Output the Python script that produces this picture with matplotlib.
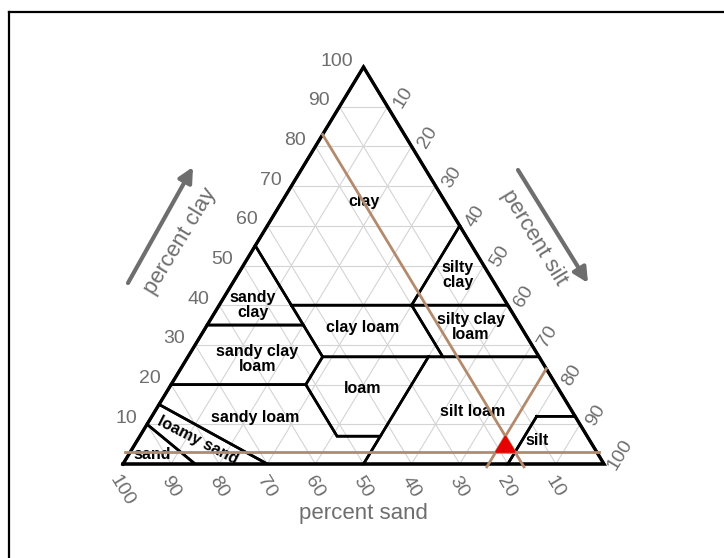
import matplotlib.pyplot as plt
from matplotlib.lines import Line2D

plt.rcParams['font.family'] = ['Liberation Sans', 'DejaVu Sans']

# USDA texture classes, vertices as (sand, silt, clay) percent
clay_poly = [(0, 0, 100), (45, 0, 55), (45, 15, 40), (20, 40, 40), (0, 40, 60)]
sandy_clay = [(45, 0, 55), (65, 0, 35), (45, 20, 35)]
silty_clay = [(0, 40, 60), (20, 40, 40), (0, 60, 40)]
sandy_clay_loam = [(65, 0, 35), (80, 0, 20), (52, 28, 20), (45, 28, 27), (45, 20, 35)]
clay_loam = [(45, 15, 40), (45, 28, 27), (20, 53, 27), (20, 40, 40)]
silty_clay_loam = [(20, 40, 40), (20, 53, 27), (0, 73, 27), (0, 60, 40)]
loam = [(45, 28, 27), (52, 28, 20), (52, 41, 7), (43, 50, 7), (23, 50, 27)]
silt_loam = [(23, 50, 27), (43, 50, 7), (50, 50, 0), (20, 80, 0), (8, 80, 12), (0, 88, 12), (0, 73, 27)]
silt_poly = [(8, 80, 12), (20, 80, 0), (0, 100, 0), (0, 88, 12)]
sandy_loam = [(80, 0, 20), (85, 0, 15), (70, 30, 0), (50, 50, 0), (43, 50, 7), (52, 41, 7), (52, 28, 20)]
loamy_sand = [(85, 0, 15), (90, 0, 10), (85, 15, 0), (70, 30, 0)]
sand_poly = [(90, 0, 10), (100, 0, 0), (85, 15, 0)]

classes = [clay_poly, sandy_clay, silty_clay, sandy_clay_loam, clay_loam, silty_clay_loam,
           loam, silt_loam, silt_poly, sandy_loam, loamy_sand, sand_poly]

class_names = ['clay', 'silty\nclay', 'sandy\nclay', 'clay loam', 'silty clay\nloam',
               'sandy clay\nloam', 'loam', 'sandy loam', 'silt loam', 'silt',
               'loamy sand', 'sand']
# label anchor (x, y) in plot units, y = clay
name_pos = [(50, 66), (69.6, 47.6), (27.0, 40.1), (49.9, 34.3), (72.3, 34.5),
            (27.9, 26.4), (49.9, 19.1), (27.4, 11.8), (72.6, 13.1), (86.0, 6.0),
            (15.6, 6.0), (6.0, 2.3)]
name_rot = [0, 0, 0, 0, 0, 0, 0, 0, 0, 0, -27, 0]

ticks = [10, 20, 30, 40, 50, 60, 70, 80, 90, 100]

# sample reading
sand_read = 17
silt_read = 76
clay_read = 3

GRAY = '#6e6e6e'
BROWN = '#b48a6c'


def tern(sand, silt, clay):
    return silt + clay / 2.0, clay


def line(ax, pts, **kw):
    xy = [tern(*p) for p in pts]
    ax.plot([p[0] for p in xy], [p[1] for p in xy], **kw)


def extend(a, b, d0, d1):
    # push the two ends of a segment outward by d0 / d1 (percent units)
    dx, dy = b[0] - a[0], b[1] - a[1]
    n = (dx ** 2 + dy ** 2) ** 0.5
    ux, uy = dx / n, dy / n
    return [a[0] - ux * d0, b[0] + ux * d1], [a[1] - uy * d0, b[1] + uy * d1]


fig = plt.figure(figsize=(7.24, 5.58), dpi=100)
ax = fig.add_axes([0, 0, 1, 1])
ax.set_xlim(-123 / 4.81, (724 - 123) / 4.81)
ax.set_ylim(-94 / 3.97, 464 / 3.97)
ax.axis('off')

# grid
for k in range(10, 100, 10):
    line(ax, [(100 - k, 0, k), (0, 100 - k, k)], color='#d4d4d4', lw=0.8, zorder=1)
    line(ax, [(100 - k, k, 0), (0, k, 100 - k)], color='#d4d4d4', lw=0.8, zorder=1)
    line(ax, [(k, 100 - k, 0), (k, 0, 100 - k)], color='#d4d4d4', lw=0.8, zorder=1)

# class boundaries
for poly in classes:
    line(ax, poly + [poly[0]], color='black', lw=1.9, zorder=3, solid_joinstyle='miter')

# outline
line(ax, [(100, 0, 0), (0, 100, 0), (0, 0, 100), (100, 0, 0)],
     color='black', lw=2.4, zorder=4, solid_joinstyle='miter')

for name, (x, y), r in zip(class_names, name_pos, name_rot):
    ax.text(x, y, name, ha='center', va='center', fontsize=11.5, fontweight='bold',
            rotation=r, linespacing=1.0, zorder=5)

# reading lines
a, b = tern(0, 100 - clay_read, clay_read), tern(100 - clay_read, 0, clay_read)
xs, ys = extend(b, a, 1.0, 0.5)
ax.plot(xs, ys, color=BROWN, lw=2, zorder=6)
a, b = tern(sand_read, 0, 100 - sand_read), tern(sand_read, 100 - sand_read, 0)
xs, ys = extend(a, b, 0, 0.8)
ax.plot(xs, ys, color=BROWN, lw=2, zorder=6)
a, b = tern(0, silt_read, 100 - silt_read), tern(100 - silt_read, silt_read, 0)
xs, ys = extend(a, b, 0, 0.8)
ax.plot(xs, ys, color=BROWN, lw=2, zorder=6)

tri = [tern(sand_read, 100 - sand_read - clay_read, clay_read),
       tern(100 - silt_read - clay_read, silt_read, clay_read),
       tern(sand_read, silt_read, 100 - sand_read - silt_read)]
ax.fill([p[0] for p in tri], [p[1] for p in tri], color='#e60000', zorder=7)

# tick labels
for k in ticks:
    ax.annotate(str(k), tern(100 - k, 0, k), xytext=(-10, 6), textcoords='offset pixels',
                ha='right', va='center', fontsize=14, color=GRAY)
    ax.annotate(str(k), tern(0, k, 100 - k), xytext=(16, 9), textcoords='offset pixels',
                ha='center', va='center', fontsize=14, color=GRAY, rotation=58.7)
    ax.annotate(str(k), tern(k, 100 - k, 0), xytext=(-1, -23 - (4 if k == 100 else 0)),
                textcoords='offset pixels', ha='center', va='center', fontsize=14,
                color=GRAY, rotation=-58.7)

# axis titles and arrows
fig.text(363 / 724, 1 - 514 / 558, 'percent sand', ha='center', va='center',
         fontsize=16, color=GRAY)
fig.text(180 / 724, 1 - 241 / 558, 'percent clay', ha='center', va='center',
         fontsize=16, color=GRAY, rotation=58.7)
fig.text(534 / 724, 1 - 238 / 558, 'percent silt', ha='center', va='center',
         fontsize=16, color=GRAY, rotation=-58.7)

arrow = dict(arrowstyle='-|>', color=GRAY, lw=3, mutation_scale=22, shrinkA=0, shrinkB=0)
ax.annotate('', xy=(193, 558 - 167), xytext=(128, 558 - 283), xycoords='figure pixels',
            textcoords='figure pixels', arrowprops=arrow)
ax.annotate('', xy=(588, 558 - 283), xytext=(518, 558 - 170), xycoords='figure pixels',
            textcoords='figure pixels', arrowprops=arrow)

# frame edges
fig.add_artist(Line2D([9 / 724, 9 / 724], [0, 1 - 12 / 558], color='black', lw=1.6,
                      transform=fig.transFigure))
fig.add_artist(Line2D([9 / 724, 1], [1 - 12 / 558, 1 - 12 / 558], color='black', lw=1.6,
                      transform=fig.transFigure))

fig.savefig('out.png', dpi=100, facecolor='white')
